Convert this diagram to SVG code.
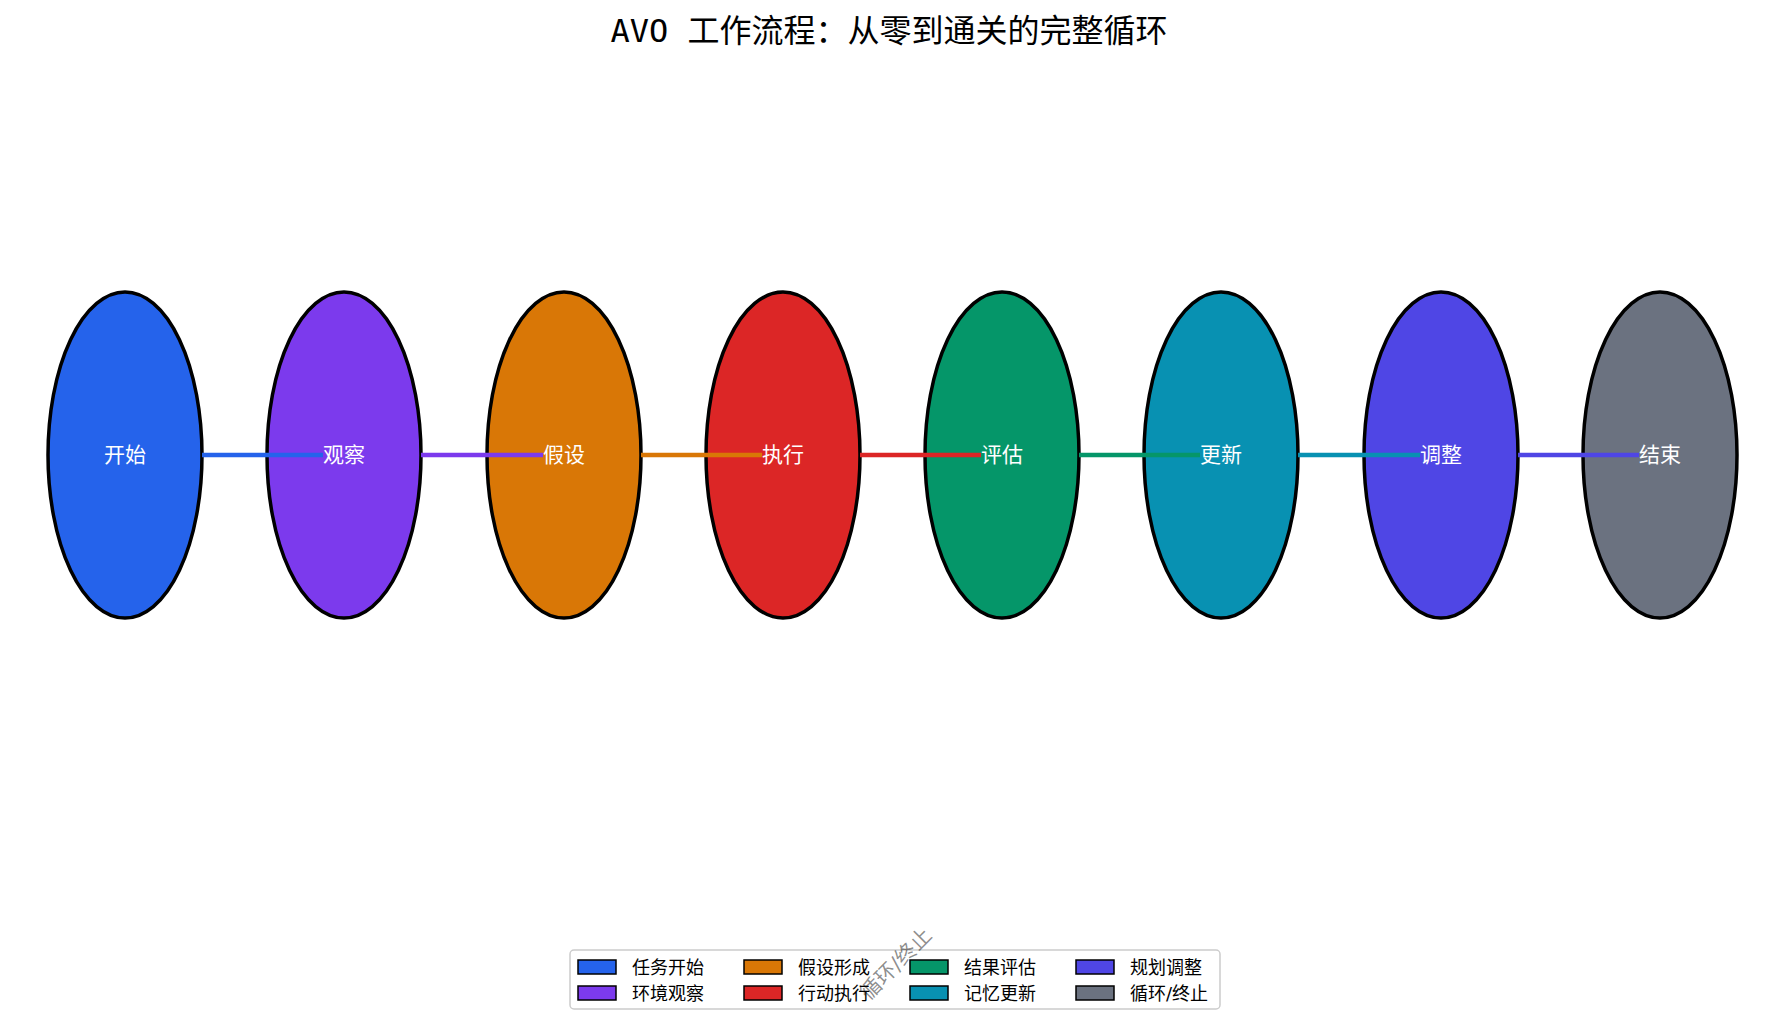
<svg xmlns="http://www.w3.org/2000/svg" width="1785" height="1023" viewBox="0 0 1785 1023">
<style>
.n{stroke:#000;stroke-width:3.5}
.t{font-family:"DejaVu Sans","Noto Sans CJK SC",sans-serif;font-size:21px;fill:#fff;text-anchor:middle;dominant-baseline:central}
.e{stroke-width:4.5;fill:none}
.l{font-family:"DejaVu Sans","Noto Sans CJK SC",sans-serif;font-size:18px;fill:#000;dominant-baseline:central}
.s{stroke:#000;stroke-width:1.5}
</style>
<rect width="1785" height="1023" fill="#fff"/>
<text x="889" y="31" font-family="DejaVu Sans Mono,Noto Sans CJK SC,monospace" font-size="32" text-anchor="middle" dominant-baseline="central">AVO 工作流程：从零到通关的完整循环</text>
<g id="n1"><ellipse class="n" cx="125" cy="455" rx="77" ry="163" fill="#2563eb"/></g>
<g id="n2"><ellipse class="n" cx="344" cy="455" rx="77" ry="163" fill="#7c3aed"/></g>
<g id="n3"><ellipse class="n" cx="564" cy="455" rx="77" ry="163" fill="#d97706"/></g>
<g id="n4"><ellipse class="n" cx="783" cy="455" rx="77" ry="163" fill="#dc2626"/></g>
<g id="n5"><ellipse class="n" cx="1002" cy="455" rx="77" ry="163" fill="#059669"/></g>
<g id="n6"><ellipse class="n" cx="1221" cy="455" rx="77" ry="163" fill="#0891b2"/></g>
<g id="n7"><ellipse class="n" cx="1441" cy="455" rx="77" ry="163" fill="#4f46e5"/></g>
<g id="n8"><ellipse class="n" cx="1660" cy="455" rx="77" ry="163" fill="#6b7280"/></g>
<g id="edges">
<line class="e" x1="202" y1="455" x2="323" y2="455" stroke="#2563eb"/>
<line class="e" x1="421" y1="455" x2="543" y2="455" stroke="#7c3aed"/>
<line class="e" x1="641" y1="455" x2="762" y2="455" stroke="#d97706"/>
<line class="e" x1="860" y1="455" x2="981" y2="455" stroke="#dc2626"/>
<line class="e" x1="1079" y1="455" x2="1200" y2="455" stroke="#059669"/>
<line class="e" x1="1298" y1="455" x2="1420" y2="455" stroke="#0891b2"/>
<line class="e" x1="1518" y1="455" x2="1639" y2="455" stroke="#4f46e5"/>
</g>
<g id="labels">
<text class="t" x="125" y="455">开始</text>
<text class="t" x="344" y="455">观察</text>
<text class="t" x="564" y="455">假设</text>
<text class="t" x="783" y="455">执行</text>
<text class="t" x="1002" y="455">评估</text>
<text class="t" x="1221" y="455">更新</text>
<text class="t" x="1441" y="455">调整</text>
<text class="t" x="1660" y="455">结束</text>
</g>
<g id="legend">
<rect x="570" y="950" width="650" height="59" rx="4" fill="#fff" fill-opacity="0.8" stroke="#ccc" stroke-width="1.5"/>
<rect class="s" x="578" y="960" width="38" height="14" fill="#2563eb"/><text class="l" x="632" y="967">任务开始</text>
<rect class="s" x="578" y="986" width="38" height="14" fill="#7c3aed"/><text class="l" x="632" y="993">环境观察</text>
<rect class="s" x="744" y="960" width="38" height="14" fill="#d97706"/><text class="l" x="798" y="967">假设形成</text>
<rect class="s" x="744" y="986" width="38" height="14" fill="#dc2626"/><text class="l" x="798" y="993">行动执行</text>
<rect class="s" x="910" y="960" width="38" height="14" fill="#059669"/><text class="l" x="964" y="967">结果评估</text>
<rect class="s" x="910" y="986" width="38" height="14" fill="#0891b2"/><text class="l" x="964" y="993">记忆更新</text>
<rect class="s" x="1076" y="960" width="38" height="14" fill="#4f46e5"/><text class="l" x="1130" y="967">规划调整</text>
<rect class="s" x="1076" y="986" width="38" height="14" fill="#6b7280"/><text class="l" x="1130" y="993">循环/终止</text>
</g>
<text x="896" y="964" font-family="DejaVu Sans,Noto Sans CJK SC,sans-serif" font-size="21" fill="#000" fill-opacity="0.45" text-anchor="middle" dominant-baseline="central" transform="rotate(-45 896 964)">循环/终止</text>
</svg>
